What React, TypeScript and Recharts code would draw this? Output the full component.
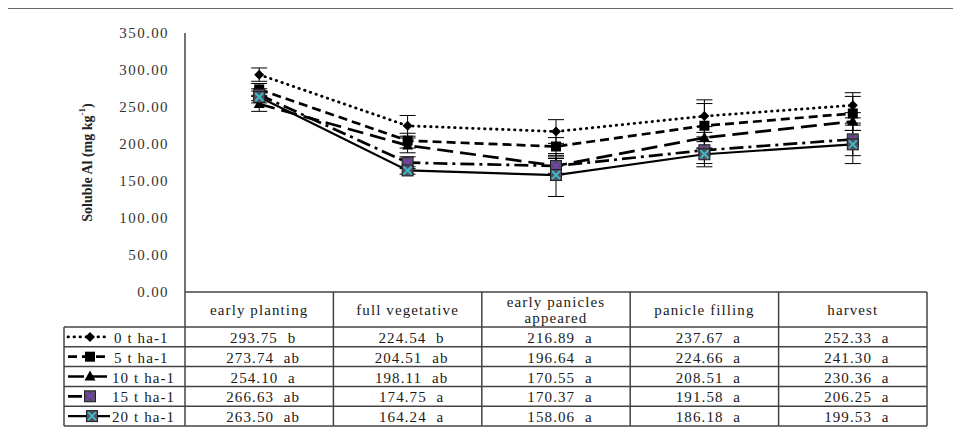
import React from "react";
import { ComposedChart, Line, XAxis, YAxis, ErrorBar, Legend } from "recharts";

// growth stages (x categories); "\n" marks a wrapped header
const stages = [
  "early planting",
  "full vegetative",
  "early panicles\nappeared",
  "panicle filling",
  "harvest",
];

const doses = ["0 t ha-1", "5 t ha-1", "10 t ha-1", "15 t ha-1", "20 t ha-1"];

// soluble Al means (mg kg-1)
const al0 = [293.75, 224.54, 216.89, 237.67, 252.33];
const al5 = [273.74, 204.51, 196.64, 224.66, 241.3];
const al10 = [254.1, 198.11, 170.55, 208.51, 230.36];
const al15 = [266.63, 174.75, 170.37, 191.58, 206.25];
const al20 = [263.5, 164.24, 158.06, 186.18, 199.53];

// DMRT letters
const let0 = ["b", "b", "a", "a", "a"];
const let5 = ["ab", "ab", "a", "a", "a"];
const let10 = ["a", "ab", "a", "a", "a"];
const let15 = ["ab", "a", "a", "a", "a"];
const let20 = ["ab", "a", "a", "a", "a"];

// error bars
const err0 = [9, 14, 16, 22, 17];
const err5 = [8, 10, 12, 30, 23];
const err10 = [10, 10, 12, 15, 12];
const err15 = [8, 8, 10, 18, 22];
const err20 = [8, 5, 29, 17, 26];

const yTicks = [0, 50, 100, 150, 200, 250, 300, 350];

const values = [al0, al5, al10, al15, al20];
const letters = [let0, let5, let10, let15, let20];
const errors = [err0, err5, err10, err15, err20];

const data = stages.map((stage, i) => {
  const row: Record<string, string | number> = { stage };
  values.forEach((v, s) => {
    row["s" + s] = v[i];
    row["e" + s] = errors[s][i];
  });
  return row;
});

const styles = [
  { dash: "0.5 5.5", cap: "round", width: 2.8, marker: "diamond" },
  { dash: "9 5", cap: "butt", width: 2.7, marker: "square" },
  { dash: "16 7", cap: "butt", width: 2.7, marker: "triangle" },
  { dash: "14 5 3 5", cap: "butt", width: 2.7, marker: "xbox", xColor: "#7a3fb0" },
  { dash: undefined, cap: "butt", width: 2.2, marker: "xbox", xColor: "#3fb8c8" },
];

const W = 952;
const H = 438;
const M = { top: 24, right: 33, bottom: 21, left: 0 };
const Y_W = 177;
const X_H = 134;
const COL_W = (W - M.right - Y_W - M.left) / stages.length;
const HEAD_H = 35;
const ROW_H = (X_H - HEAD_H) / doses.length;
const LINE = "#444";
const FONT = "'Liberation Serif', 'Times New Roman', serif";

const Marker = ({ cx, cy, s }: { cx: number; cy: number; s: number }) => {
  const st = styles[s];
  if (st.marker === "diamond")
    return (
      <polygon
        points={`${cx},${cy - 5} ${cx + 5},${cy} ${cx},${cy + 5} ${cx - 5},${cy}`}
        fill="#000"
      />
    );
  if (st.marker === "square")
    return <rect x={cx - 5} y={cy - 5} width={10} height={10} fill="#000" />;
  if (st.marker === "triangle")
    return (
      <polygon
        points={`${cx},${cy - 6} ${cx + 5.5},${cy + 4} ${cx - 5.5},${cy + 4}`}
        fill="#000"
      />
    );
  return (
    <g>
      <rect x={cx - 5.5} y={cy - 5.5} width={11} height={11} fill="#505060" stroke="#222" strokeWidth={1} />
      <path
        d={`M${cx - 4},${cy - 4}L${cx + 4},${cy + 4}M${cx + 4},${cy - 4}L${cx - 4},${cy + 4}`}
        stroke={st.xColor}
        strokeWidth={2}
      />
    </g>
  );
};

const TableColumn = (props: any) => {
  const { x, y, payload } = props;
  const i = payload.index ?? props.index;
  const left = x - COL_W / 2;
  const lines = String(payload.value).split("\n");
  const txt = { fontFamily: FONT, fontSize: 15, letterSpacing: 1.1, fill: "#1a1a1a" };
  return (
    <g>
      <line x1={left} y1={y} x2={left} y2={y + X_H} stroke={LINE} strokeWidth={1.5} />
      {i === stages.length - 1 && (
        <line x1={left + COL_W} y1={y} x2={left + COL_W} y2={y + X_H} stroke={LINE} strokeWidth={1.5} />
      )}
      {doses.map((_, k) => (
        <line
          key={k}
          x1={left}
          x2={left + COL_W}
          y1={y + HEAD_H + k * ROW_H}
          y2={y + HEAD_H + k * ROW_H}
          stroke={LINE}
          strokeWidth={1.5}
        />
      ))}
      <line x1={left} x2={left + COL_W} y1={y + X_H} y2={y + X_H} stroke={LINE} strokeWidth={1.5} />
      {lines.map((l, k) => (
        <text
          key={k}
          x={x}
          y={y + HEAD_H / 2 + (k - (lines.length - 1) / 2) * 16}
          textAnchor="middle"
          dominantBaseline="central"
          {...txt}
        >
          {l}
        </text>
      ))}
      {values.map((v, s) => (
        <text
          key={s}
          x={x + 4}
          y={y + HEAD_H + s * ROW_H + ROW_H / 2 + 1}
          textAnchor="middle"
          dominantBaseline="central"
          {...txt}
        >
          {v[i].toFixed(2) + "\u00A0\u00A0" + letters[s][i]}
        </text>
      ))}
    </g>
  );
};

const LegendColumn = () => {
  const w = Y_W - 56;
  const h = X_H - HEAD_H;
  return (
    <svg width={w} height={h} style={{ overflow: "visible", display: "block" }}>
      <line x1={0} y1={0} x2={w} y2={0} stroke={LINE} strokeWidth={1.5} />
      <line x1={0} y1={0} x2={0} y2={h} stroke={LINE} strokeWidth={1.5} />
      {doses.map((d, s) => {
        const st = styles[s];
        const cy = s * ROW_H + ROW_H / 2;
        return (
          <g key={d}>
            <line x1={0} x2={w} y1={(s + 1) * ROW_H} y2={(s + 1) * ROW_H} stroke={LINE} strokeWidth={1.5} />
            <line
              x1={4}
              x2={s === 3 ? 28 : 46}
              y1={cy}
              y2={cy}
              stroke="#000"
              strokeWidth={st.width}
              strokeDasharray={st.dash}
              strokeLinecap={st.cap as any}
            />
            <Marker cx={s === 4 ? 28 : 26} cy={cy} s={s} />
            <text
              x={s < 2 ? 50 : 48}
              y={cy + 1}
              dominantBaseline="central"
              fontFamily={FONT}
              fontSize={15}
              letterSpacing={1.1}
              fill="#1a1a1a"
            >
              {d}
            </text>
          </g>
        );
      })}
    </svg>
  );
};

const YLabel = (props: any) => {
  const { viewBox } = props;
  const cx = viewBox.x + 79;
  const cy = viewBox.y + viewBox.height / 2;
  return (
    <text
      x={cx}
      y={cy}
      transform={`rotate(-90 ${cx} ${cy})`}
      textAnchor="middle"
      dominantBaseline="central"
      fontFamily={FONT}
      fontWeight="bold"
      fontSize={14}
      fill="#222"
    >
      Soluble Al (mg kg
      <tspan fontSize={9} dy={-5}>-1</tspan>
      <tspan dy={5}>)</tspan>
    </text>
  );
};

export default function App() {
  return (
    <div
      style={{
        width: W,
        height: H,
        borderTop: "1.5px solid #666",
        borderLeft: "1.5px solid #666",
        marginLeft: -1,
        background: "#fff",
      }}
    >
      <ComposedChart width={W} height={H} data={data} margin={M}>
        <XAxis
          dataKey="stage"
          scale="band"
          height={X_H}
          interval={0}
          tickLine={false}
          tickSize={0}
          tickMargin={0}
          axisLine={{ stroke: LINE, strokeWidth: 1.5 }}
          tick={<TableColumn />}
        />
        <YAxis
          width={Y_W}
          domain={[0, 350]}
          ticks={yTicks}
          interval={0}
          tickLine={false}
          tickSize={0}
          tickMargin={16}
          axisLine={{ stroke: LINE, strokeWidth: 1.5 }}
          tickFormatter={(v: number) => v.toFixed(2)}
          tick={{ fontFamily: FONT, fontSize: 15, letterSpacing: 1.4, fill: "#333" }}
          label={<YLabel />}
        />
        <Legend
          layout="vertical"
          align="center"
          verticalAlign="middle"
          wrapperStyle={{ left: 56, top: M.top + (H - M.top - M.bottom - X_H) + HEAD_H, width: Y_W - 56, height: X_H - HEAD_H }}
          content={<LegendColumn />}
        />
        {doses.map((d, s) => (
          <Line
            key={d}
            name={d}
            dataKey={"s" + s}
            stroke="#000"
            strokeWidth={styles[s].width}
            strokeDasharray={styles[s].dash}
            strokeLinecap={styles[s].cap as any}
            isAnimationActive={false}
            dot={(p: any) => <Marker key={d + p.index} cx={p.cx} cy={p.cy} s={s} />}
            activeDot={false}
          >
            <ErrorBar dataKey={"e" + s} width={8} strokeWidth={1} stroke="#000" direction="y" />
          </Line>
        ))}
      </ComposedChart>
    </div>
  );
}
